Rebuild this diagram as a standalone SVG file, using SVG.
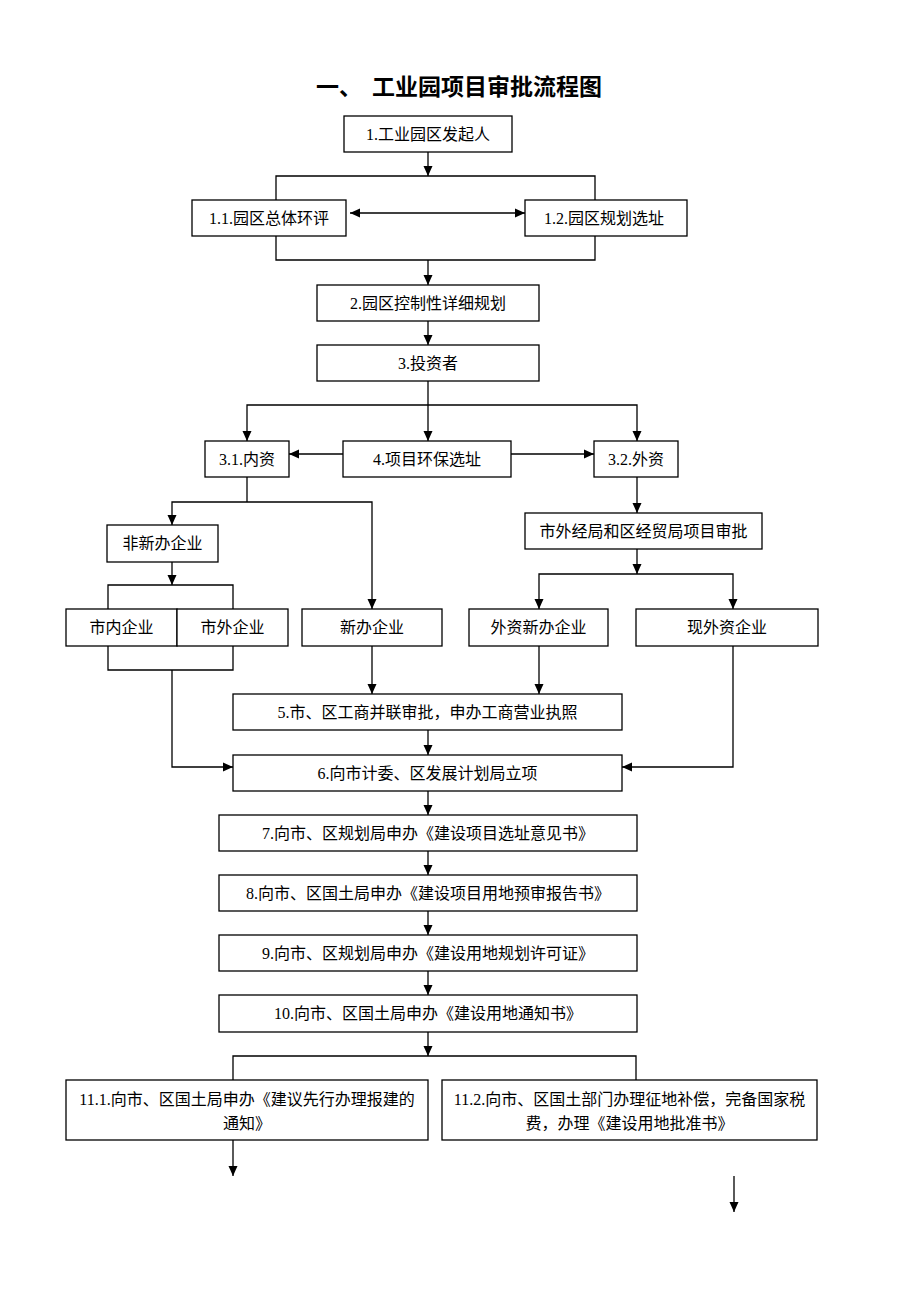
<svg xmlns="http://www.w3.org/2000/svg" width="920" height="1302" viewBox="0 0 920 1302">
<style>
.b{fill:#fff;stroke:#000;stroke-width:1.3}
.t{font-family:"Liberation Serif","Noto Sans CJK SC",serif;font-size:16px;fill:#000;text-anchor:middle}
.c{fill:none;stroke:#000;stroke-width:1.3}
.a{fill:none;stroke:#000;stroke-width:1.3;marker-end:url(#ah)}
.title{font-family:"Noto Sans CJK SC","Noto Sans",sans-serif;font-size:23px;font-weight:bold;fill:#000}
</style>
<defs>
<marker id="ah" markerUnits="userSpaceOnUse" markerWidth="10" markerHeight="10" refX="10" refY="5" orient="auto">
<path d="M0,0.5 L10,5 L0,9.5 z" fill="#000"/>
</marker>
<marker id="as" markerUnits="userSpaceOnUse" markerWidth="10" markerHeight="10" refX="0" refY="5" orient="auto">
<path d="M10,0.5 L0,5 L10,9.5 z" fill="#000"/>
</marker>
</defs>
<rect width="920" height="1302" fill="#fff"/>
<g id="title"><text class="title" y="95"><tspan x="316">一、</tspan><tspan x="372">工业园项目审批流程图</tspan></text></g>

<g id="connectors">
<path class="a" d="M428,152 V176"/>
<path class="c" d="M276,200 V176 H595 V200"/>
<path class="a" d="M350,213 H525" marker-start="url(#as)"/>
<path class="c" d="M276,236 V260 H595 V236"/>
<path class="a" d="M428,260 V285"/>
<path class="a" d="M428,321 V345"/>
<path class="a" d="M428,381 V441"/>
<path class="a" d="M428,405 H247 V441"/>
<path class="a" d="M428,405 H637 V441"/>
<path class="a" d="M343,454 H289"/>
<path class="a" d="M511,454 H594"/>
<path class="c" d="M247,477 V502"/>
<path class="a" d="M247,502 H172 V525"/>
<path class="a" d="M247,502 H372 V609"/>
<path class="a" d="M172,562 V585"/>
<path class="c" d="M108,609 V585 H233 V609"/>
<path class="c" d="M108,646 V670 H233 V646"/>
<path class="a" d="M172,670 V767 H233"/>
<path class="a" d="M372,646 V694"/>
<path class="a" d="M637,477 V513"/>
<path class="a" d="M637,549 V574"/>
<path class="a" d="M637,574 H539 V609"/>
<path class="a" d="M637,574 H733 V609"/>
<path class="a" d="M539,646 V694"/>
<path class="a" d="M733,646 V767 H622"/>
<path class="a" d="M428,730 V755"/>
<path class="a" d="M428,791 V815"/>
<path class="a" d="M428,851 V875"/>
<path class="a" d="M428,911 V935"/>
<path class="a" d="M428,971 V995"/>
<path class="a" d="M428,1032 V1056"/>
<path class="c" d="M233,1080 V1056 H636 V1080"/>
<path class="a" d="M233,1140 V1176"/>
<path class="a" d="M734,1176 V1212"/>
</g>

<g id="n1"><rect class="b" x="344" y="116" width="168" height="36"/><text class="t" x="428" y="139.5">1.工业园区发起人</text></g>
<g id="n1_1"><rect class="b" x="192" y="200" width="154" height="36"/><text class="t" x="269" y="223.5">1.1.园区总体环评</text></g>
<g id="n1_2"><rect class="b" x="525" y="200" width="162" height="36"/><text class="t" x="604" y="223.5">1.2.园区规划选址</text></g>
<g id="n2"><rect class="b" x="317" y="285" width="222" height="36"/><text class="t" x="428" y="308.5">2.园区控制性详细规划</text></g>
<g id="n3"><rect class="b" x="317" y="345" width="222" height="36"/><text class="t" x="428" y="368.5">3.投资者</text></g>
<g id="n3_1"><rect class="b" x="205" y="441" width="84" height="36"/><text class="t" x="247" y="464.5">3.1.内资</text></g>
<g id="n4"><rect class="b" x="343" y="441" width="168" height="36"/><text class="t" x="427" y="464.5">4.项目环保选址</text></g>
<g id="n3_2"><rect class="b" x="594" y="441" width="84" height="36"/><text class="t" x="636" y="464.5">3.2.外资</text></g>
<g id="n_fxb"><rect class="b" x="107" y="525" width="111" height="37"/><text class="t" x="162.5" y="549">非新办企业</text></g>
<g id="n_wjj"><rect class="b" x="525" y="513" width="237" height="36"/><text class="t" x="643.5" y="536.5">市外经局和区经贸局项目审批</text></g>
<g id="n_snqy"><rect class="b" x="66" y="609" width="111" height="37"/><text class="t" x="121.5" y="633">市内企业</text></g>
<g id="n_swqy"><rect class="b" x="177" y="609" width="111" height="37"/><text class="t" x="232.5" y="633">市外企业</text></g>
<g id="n_xbqy"><rect class="b" x="302" y="609" width="140" height="37"/><text class="t" x="372" y="633">新办企业</text></g>
<g id="n_wzxb"><rect class="b" x="469" y="609" width="139" height="37"/><text class="t" x="538.5" y="633">外资新办企业</text></g>
<g id="n_xwz"><rect class="b" x="636" y="609" width="182" height="37"/><text class="t" x="727" y="633">现外资企业</text></g>
<g id="n5"><rect class="b" x="233" y="694" width="389" height="36"/><text class="t" x="427.5" y="717.5">5.市、区工商并联审批，申办工商营业执照</text></g>
<g id="n6"><rect class="b" x="233" y="755" width="389" height="36"/><text class="t" x="427.5" y="778.5">6.向市计委、区发展计划局立项</text></g>
<g id="n7"><rect class="b" x="219" y="815" width="418" height="36"/><text class="t" x="428" y="838.5">7.向市、区规划局申办《建设项目选址意见书》</text></g>
<g id="n8"><rect class="b" x="219" y="875" width="418" height="36"/><text class="t" x="428" y="898.5">8.向市、区国土局申办《建设项目用地预审报告书》</text></g>
<g id="n9"><rect class="b" x="219" y="935" width="418" height="36"/><text class="t" x="428" y="958.5">9.向市、区规划局申办《建设用地规划许可证》</text></g>
<g id="n10"><rect class="b" x="219" y="995" width="418" height="37"/><text class="t" x="428" y="1019">10.向市、区国土局申办《建设用地通知书》</text></g>
<g id="n11_1"><rect class="b" x="66" y="1080" width="362" height="60"/><text class="t" x="247" y="1104.5">11.1.向市、区国土局申办《建议先行办理报建的</text><text class="t" x="247" y="1128.5">通知》</text></g>
<g id="n11_2"><rect class="b" x="442" y="1080" width="375" height="60"/><text class="t" x="629.5" y="1104.5">11.2.向市、区国土部门办理征地补偿，完备国家税</text><text class="t" x="629.5" y="1128.5">费，办理《建设用地批准书》</text></g>
</svg>
